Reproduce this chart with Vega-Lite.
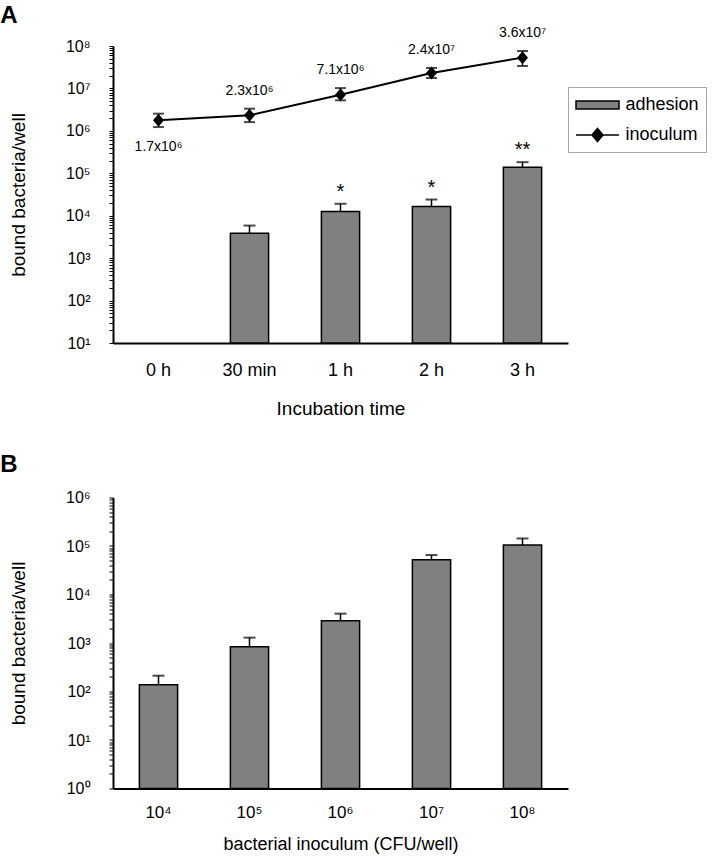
{
  "$schema": "https://vega.github.io/schema/vega-lite/v6.json",
  "padding": {"left": 0, "top": 3, "right": 5, "bottom": 5},
  "background": "white",
  "config": {
    "font": "Liberation Sans",
    "view": {"stroke": null},
    "axis": {"domainColor": "black", "domainWidth": 2, "tickColor": "black", "labelColor": "black", "titleColor": "black", "grid": false, "labelFont": "Liberation Sans", "titleFont": "Liberation Sans", "titleFontWeight": "normal"},
    "axisY": {
      "titleFontSize": 19, "titlePadding": 37,
      "values": [1,2,3,4,5,6,7,8,9,10,20,30,40,50,60,70,80,90,100,200,300,400,500,600,700,800,900,1000,2000,3000,4000,5000,6000,7000,8000,9000,10000,20000,30000,40000,50000,60000,70000,80000,90000,100000,200000,300000,400000,500000,600000,700000,800000,900000,1000000,2000000,3000000,4000000,5000000,6000000,7000000,8000000,9000000,10000000,20000000,30000000,40000000,50000000,60000000,70000000,80000000,90000000,100000000],
      "labelExpr": "abs(log(datum.value)/LN10 - round(log(datum.value)/LN10)) < 0.001 ? '10' + ['⁰','¹','²','³','⁴','⁵','⁶','⁷','⁸','⁹'][round(log(datum.value)/LN10)] : ''",
      "labelFontSize": 16, "labelPadding": 19, "labelOverlap": false, "labelFlush": false, "labelBound": false,
      "tickSize": 4, "tickWidth": 1
    },
    "title": {"fontSize": 24, "fontWeight": "bold", "anchor": "start", "frame": "bounds", "color": "black", "font": "Liberation Sans"}
  },
  "spacing": 34.5,
  "vconcat": [
    {
      "title": {"text": "A", "dx": -9, "offset": -1.5},
      "width": 455,
      "height": 297,
      "data": {"values": [
        {"time": "0 h", "adh": null, "adhHi": null, "sig": "", "inoc": 1770000, "inocLo": 1230000, "inocHi": 2540000, "lbl": "1.7x10⁶"},
        {"time": "30 min", "adh": 3860, "adhHi": 5860, "sig": "", "inoc": 2320000, "inocLo": 1610000, "inocHi": 3330000, "lbl": "2.3x10⁶"},
        {"time": "1 h", "adh": 12560, "adhHi": 19100, "sig": "*", "inoc": 7130000, "inocLo": 5240000, "inocHi": 10200000, "lbl": "7.1x10⁶"},
        {"time": "2 h", "adh": 16480, "adhHi": 24100, "sig": "*", "inoc": 23100000, "inocLo": 17600000, "inocHi": 30300000, "lbl": "2.4x10⁷"},
        {"time": "3 h", "adh": 139000, "adhHi": 183000, "sig": "**", "inoc": 53200000, "inocLo": 33800000, "inocHi": 76200000, "lbl": "3.6x10⁷"}
      ]},
      "encoding": {
        "x": {"field": "time", "type": "nominal", "sort": ["0 h", "30 min", "1 h", "2 h", "3 h"],
          "scale": {"domain": ["0 h", "30 min", "1 h", "2 h", "3 h"], "paddingInner": 0.58, "paddingOuter": 0.29},
          "axis": {"title": "Incubation time", "titleFontSize": 19, "labelFontSize": 18, "ticks": false, "labelPadding": 18, "titlePadding": 20, "labelAngle": 0}}
      },
      "layer": [
        {
          "mark": {"type": "bar", "stroke": "black", "strokeWidth": 1.5},
          "encoding": {
            "y": {"field": "adh", "type": "quantitative", "title": "bound bacteria/well",
              "scale": {"type": "log", "domain": [10, 100000000], "nice": false}},
            "y2": {"datum": 10},
            "fill": {"datum": "adhesion", "scale": {"domain": ["adhesion", "inoculum"], "range": ["#808080", "#000000"]},
              "legend": {"title": null, "orient": "none", "legendX": 455, "legendY": 41, "labelFontSize": 18, "labelColor": "black",
                "symbolSize": 400, "symbolOffset": 11.5, "labelOffset": 17, "padding": 7, "rowPadding": 10, "strokeColor": "#a6a6a6", "symbolOpacity": 1,
                "encode": {"symbols": {"stroke": {"value": "black"}, "strokeWidth": {"value": 1.5}}}}}
          }
        },
        {
          "mark": {"type": "rule", "color": "black", "strokeWidth": 1.5},
          "encoding": {"y": {"field": "adh", "type": "quantitative", "title": "bound bacteria/well"}, "y2": {"field": "adhHi"}}
        },
        {
          "mark": {"type": "tick", "color": "black", "thickness": 2, "size": 12},
          "encoding": {"y": {"field": "adhHi", "type": "quantitative", "title": "bound bacteria/well"}}
        },
        {
          "mark": {"type": "text", "color": "black", "fontSize": 20, "dy": -12, "baseline": "middle"},
          "encoding": {"y": {"field": "adhHi", "type": "quantitative", "title": "bound bacteria/well"}, "text": {"field": "sig"}}
        },
        {
          "mark": {"type": "rule", "color": "black", "strokeWidth": 1.5},
          "encoding": {"y": {"field": "inocLo", "type": "quantitative", "title": "bound bacteria/well"}, "y2": {"field": "inocHi"}}
        },
        {
          "mark": {"type": "tick", "color": "black", "thickness": 2, "size": 11},
          "encoding": {"y": {"field": "inocLo", "type": "quantitative", "title": "bound bacteria/well"}}
        },
        {
          "mark": {"type": "tick", "color": "black", "thickness": 2, "size": 11},
          "encoding": {"y": {"field": "inocHi", "type": "quantitative", "title": "bound bacteria/well"}}
        },
        {
          "mark": {"type": "line", "color": "black", "strokeWidth": 2},
          "encoding": {"y": {"field": "inoc", "type": "quantitative", "title": "bound bacteria/well"}}
        },
        {
          "mark": {"type": "point", "filled": true, "size": 400, "opacity": 1},
          "encoding": {"y": {"field": "inoc", "type": "quantitative", "title": "bound bacteria/well"},
            "fill": {"datum": "inoculum"},
            "shape": {"datum": "inoculum", "scale": {"domain": ["adhesion", "inoculum"], "range": ["M-2.15,-0.4H2.15V0.4H-2.15Z", "M-2.15,0H2.15M0,-0.65L0.55,0L0,0.65L-0.55,0Z"]},
              "legend": {"title": null, "orient": "none", "legendX": 455, "legendY": 41, "labelFontSize": 18, "labelColor": "black",
                "symbolSize": 400, "symbolOffset": 11.5, "labelOffset": 17, "padding": 7, "rowPadding": 10, "strokeColor": "#a6a6a6", "symbolOpacity": 1,
                "encode": {"symbols": {"stroke": {"value": "black"}, "strokeWidth": {"value": 1.5}}}}}
          }
        },
        {
          "transform": [{"filter": "datum.time !== '0 h'"}],
          "mark": {"type": "text", "color": "black", "fontSize": 14, "dy": -18, "baseline": "middle"},
          "encoding": {"y": {"field": "inocHi", "type": "quantitative", "title": "bound bacteria/well"}, "text": {"field": "lbl"}}
        },
        {
          "transform": [{"filter": "datum.time === '0 h'"}],
          "mark": {"type": "text", "color": "black", "fontSize": 14, "dy": 20, "baseline": "middle"},
          "encoding": {"y": {"field": "inocLo", "type": "quantitative", "title": "bound bacteria/well"}, "text": {"field": "lbl"}}
        }
      ]
    },
    {
      "title": {"text": "B", "dx": -9, "offset": 13},
      "width": 455,
      "height": 291,
      "data": {"values": [
        {"inoculum": "10⁴", "adh": 137, "adhHi": 212},
        {"inoculum": "10⁵", "adh": 841, "adhHi": 1290},
        {"inoculum": "10⁶", "adh": 2885, "adhHi": 4025},
        {"inoculum": "10⁷", "adh": 52100, "adhHi": 65100},
        {"inoculum": "10⁸", "adh": 104700, "adhHi": 143000}
      ]},
      "encoding": {
        "x": {"field": "inoculum", "type": "nominal", "sort": null,
          "scale": {"paddingInner": 0.58, "paddingOuter": 0.29},
          "axis": {"title": "bacterial inoculum (CFU/well)", "titleFontSize": 18, "labelFontSize": 17, "ticks": false, "labelPadding": 16, "titlePadding": 15, "labelAngle": 0}}
      },
      "layer": [
        {
          "mark": {"type": "bar", "stroke": "black", "strokeWidth": 1.5, "fill": "#808080"},
          "encoding": {
            "y": {"field": "adh", "type": "quantitative", "title": "bound bacteria/well",
              "scale": {"type": "log", "domain": [1, 1000000], "nice": false}},
            "y2": {"datum": 1}
          }
        },
        {
          "mark": {"type": "rule", "color": "black", "strokeWidth": 1.5},
          "encoding": {"y": {"field": "adh", "type": "quantitative", "title": "bound bacteria/well"}, "y2": {"field": "adhHi"}}
        },
        {
          "mark": {"type": "tick", "color": "black", "thickness": 2, "size": 12},
          "encoding": {"y": {"field": "adhHi", "type": "quantitative", "title": "bound bacteria/well"}}
        }
      ]
    }
  ]
}
